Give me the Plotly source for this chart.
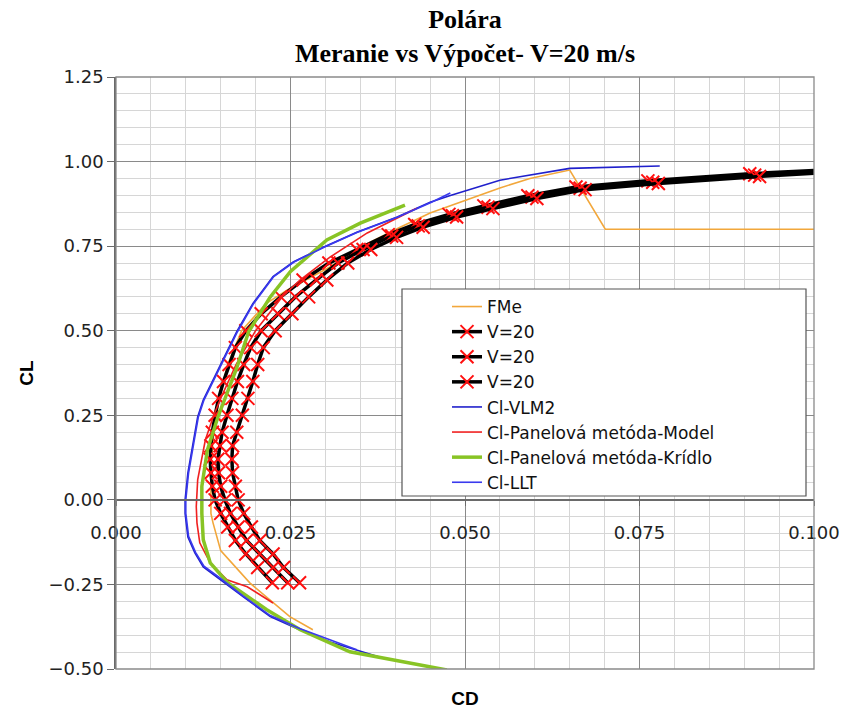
import plotly.graph_objects as go

# ---------------- data ----------------
FME_CD = [0.0282, 0.0249, 0.0192, 0.0150, 0.0139, 0.0136, 0.0136, 0.0136, 0.0140, 0.0148, 0.0160,
          0.0180, 0.0215, 0.0245, 0.0272, 0.0307, 0.0350, 0.0407, 0.0450, 0.0497, 0.0550, 0.0593,
          0.0650, 0.0701, 0.1000]
FME_CL = [-0.384, -0.345, -0.246, -0.150, -0.068, -0.040, 0.020, 0.100, 0.200, 0.300, 0.400,
          0.500, 0.580, 0.620, 0.650, 0.689, 0.747, 0.806, 0.848, 0.882, 0.922, 0.950,
          0.975, 0.800, 0.800]

V20_CL_BASE = [-0.245, -0.20, -0.16, -0.12, -0.08, -0.04, 0.00, 0.04, 0.08, 0.12, 0.16, 0.20, 0.25,
               0.30, 0.35, 0.40, 0.45, 0.50, 0.55, 0.60, 0.65, 0.70, 0.74]
V20A_CL = V20_CL_BASE + [0.784, 0.814, 0.844, 0.869, 0.899, 0.925, 0.943, 0.964, 0.979]
V20B_CL = V20_CL_BASE + [0.780, 0.810, 0.840, 0.865, 0.895, 0.921, 0.939, 0.960, 0.975]
V20C_CL = V20_CL_BASE + [0.776, 0.806, 0.836, 0.861, 0.891, 0.917, 0.935, 0.956, 0.971]
V20A_CD = [0.0224, 0.0203, 0.0186, 0.0171, 0.0160, 0.0150, 0.0142, 0.0138, 0.0136, 0.0135, 0.0136,
           0.0138, 0.0142, 0.0147, 0.0154, 0.0162, 0.0171, 0.0186, 0.0208, 0.0236, 0.0268, 0.0305,
           0.0345, 0.0390, 0.0428, 0.0477, 0.0527, 0.0590, 0.0659, 0.0762, 0.0908, 0.1050]
V20B_CD = [0.0246, 0.0225, 0.0206, 0.0187, 0.0175, 0.0164, 0.0156, 0.0150, 0.0147, 0.0146, 0.0149,
           0.0152, 0.0159, 0.0166, 0.0174, 0.0183, 0.0193, 0.0208, 0.0232, 0.0257, 0.0287, 0.0318,
           0.0354, 0.0395, 0.0433, 0.0482, 0.0533, 0.0596, 0.0665, 0.0769, 0.0915, 0.1050]
V20C_CD = [0.0263, 0.0240, 0.0225, 0.0206, 0.0194, 0.0183, 0.0175, 0.0171, 0.0167, 0.0166, 0.0167,
           0.0173, 0.0181, 0.0189, 0.0196, 0.0203, 0.0211, 0.0228, 0.0252, 0.0276, 0.0302, 0.0332,
           0.0365, 0.0402, 0.0440, 0.0488, 0.0540, 0.0603, 0.0672, 0.0777, 0.0922, 0.1050]

VLM2_CD = [0.0558, 0.0479, 0.0383, 0.0307, 0.0263, 0.0221, 0.0182, 0.0145, 0.0125, 0.0113, 0.0103,
           0.0099, 0.0099, 0.0103, 0.0110, 0.0117, 0.0125, 0.0139, 0.0145, 0.0173, 0.0196, 0.0225,
           0.0254, 0.0297, 0.0345, 0.0403, 0.0450, 0.0479, 0.0550, 0.0650, 0.0779]
VLM2_CL = [-0.522, -0.505, -0.468, -0.420, -0.384, -0.345, -0.286, -0.228, -0.198, -0.157, -0.110,
           -0.040, 0.000, 0.080, 0.157, 0.245, 0.295, 0.354, 0.384, 0.497, 0.580, 0.660,
           0.703, 0.747, 0.791, 0.836, 0.880, 0.900, 0.945, 0.980, 0.987]

MODEL_CD = [0.0225, 0.0188, 0.0159, 0.0135, 0.0120, 0.0116, 0.0115, 0.0117, 0.0128, 0.0140, 0.0150,
            0.0172, 0.0200, 0.0238, 0.0264, 0.0307, 0.0360, 0.0431]
MODEL_CL = [-0.305, -0.257, -0.236, -0.186, -0.127, -0.068, -0.020, 0.059, 0.177, 0.250, 0.300,
            0.400, 0.500, 0.600, 0.650, 0.718, 0.789, 0.862]

KRIDLO_CD = [0.0474, 0.0407, 0.0335, 0.0264, 0.0216, 0.0160, 0.0135, 0.0125, 0.0123, 0.0123, 0.0131,
             0.0146, 0.0173, 0.0190, 0.0206, 0.0221, 0.0250, 0.0302, 0.0350, 0.0414]
KRIDLO_CL = [-0.503, -0.478, -0.449, -0.384, -0.325, -0.245, -0.186, -0.118, -0.040, 0.040, 0.148,
             0.245, 0.390, 0.497, 0.552, 0.600, 0.675, 0.768, 0.818, 0.871]

LLT_CD = [0.0345, 0.0307, 0.0263, 0.0221, 0.0182, 0.0146, 0.0126, 0.0114, 0.0104, 0.0100, 0.0100,
          0.0104, 0.0111, 0.0118, 0.0126, 0.0140, 0.0146, 0.0174, 0.0197, 0.0226, 0.0255, 0.0298,
          0.0346, 0.0404, 0.0452, 0.0479]
LLT_CL = [-0.443, -0.414, -0.380, -0.342, -0.284, -0.226, -0.196, -0.155, -0.108, -0.040, 0.000,
          0.080, 0.157, 0.245, 0.295, 0.354, 0.384, 0.497, 0.580, 0.660, 0.703, 0.747,
          0.791, 0.836, 0.880, 0.907]

X_TICKS = [0.000, 0.025, 0.050, 0.075, 0.100]
Y_TICKS = [-0.50, -0.25, 0.00, 0.25, 0.50, 0.75, 1.00, 1.25]

# ---------------- figure ----------------
# page body has an 8px default margin; figure is sized/offset to compensate
FIG_W, FIG_H = 846, 701
M_L, M_R, M_T, M_B = 108, 40, 69, 40

fig = go.Figure()

fig.add_trace(go.Scatter(x=FME_CD, y=FME_CL, mode='lines', name='FMe',
                         line=dict(color='#F2A73B', width=1.6)))

for cd, cl in [(V20A_CD, V20A_CL), (V20B_CD, V20B_CL), (V20C_CD, V20C_CL)]:
    fig.add_trace(go.Scatter(x=cd, y=cl, mode='lines+markers', name='V=20',
                             line=dict(color='black', width=3.5),
                             marker=dict(symbol='x-thin', size=13,
                                         line=dict(color='#FF1010', width=2))))

fig.add_trace(go.Scatter(x=VLM2_CD, y=VLM2_CL, mode='lines', name='Cl-VLM2',
                         line=dict(color='#2020CC', width=1.6)))
fig.add_trace(go.Scatter(x=MODEL_CD, y=MODEL_CL, mode='lines', name='Cl-Panelová metóda-Model',
                         line=dict(color='#F02020', width=1.6)))
fig.add_trace(go.Scatter(x=KRIDLO_CD, y=KRIDLO_CL, mode='lines', name='Cl-Panelová metóda-Krídlo',
                         line=dict(color='#88C425', width=3.5)))
fig.add_trace(go.Scatter(x=LLT_CD, y=LLT_CL, mode='lines', name='Cl-LLT',
                         line=dict(color='#3A3AEE', width=1.6)))

# helper (draws nothing) so that the x-axis crossing at CL = 0 gets rendered
fig.add_trace(go.Scatter(x=X_TICKS, y=[0] * len(X_TICKS), xaxis='x2', yaxis='y', mode='none',
                         showlegend=False, hoverinfo='skip'))

major_grid = '#8a8a8a'
minor_grid = '#d6d6d6'
tick_font = dict(family='DejaVu Sans', size=18, color='#222222')

fig.update_layout(
    width=FIG_W, height=FIG_H, autosize=False,
    margin=dict(l=M_L, r=M_R, t=M_T, b=M_B, autoexpand=False),
    paper_bgcolor='white', plot_bgcolor='white',
    title=dict(text='<b>Polára<br>Meranie vs Výpočet- V=20 m/s</b>',
               x=0.5, xref='paper', xanchor='center',
               y=1 - 20 / FIG_H, yref='container', yanchor='top',
               font=dict(family='Liberation Serif', size=26, color='black')),
    xaxis=dict(range=[0, 0.1], tickvals=X_TICKS, showticklabels=False, ticks='',
               automargin=False,
               showgrid=True, gridcolor=major_grid, gridwidth=1.3,
               minor=dict(dtick=0.005, tick0=0, showgrid=True, gridcolor=minor_grid, gridwidth=1),
               zeroline=False, showline=False,
               title=dict(text='<b>CD</b>', standoff=32,
                          font=dict(family='Liberation Sans', size=19, color='black'))),
    xaxis2=dict(range=[0, 0.1], overlaying='x', anchor='free', position=0.5 / 1.75,
                automargin=False,
                tickvals=X_TICKS, tickformat='.3f', tickfont=tick_font,
                ticks='outside', ticklen=5, tickcolor='#6a6a6a',
                ticklabelstandoff=12,
                showgrid=False, zeroline=False,
                showline=True, linecolor='#6a6a6a', linewidth=1.5),
    yaxis=dict(range=[-0.5, 1.25], tickvals=Y_TICKS, tickformat='.2f', tickfont=tick_font,
               automargin=False,
               ticks='outside', ticklen=7, tickcolor='#6a6a6a',
               showgrid=True, gridcolor=major_grid, gridwidth=1.3,
               minor=dict(dtick=0.05, tick0=0, showgrid=True, gridcolor=minor_grid, gridwidth=1),
               zeroline=False, showline=True, linecolor='#6a6a6a', linewidth=1.5,
               title=dict(text='<b>CL</b>', standoff=10,
                          font=dict(family='Liberation Sans', size=19, color='black'))),
    legend=dict(x=(447 - 116) / 698, xanchor='left', y=(669 - 289) / 592, yanchor='top',
                bgcolor='rgba(0,0,0,0)', borderwidth=0,
                font=dict(family='DejaVu Sans', size=17, color='#111111'),
                itemwidth=30, tracegroupgap=0),
    shapes=[
        dict(type='rect', xref='paper', yref='paper', x0=0, x1=1, y0=0, y1=1,
             line=dict(color=major_grid, width=1.3), layer='above'),
        dict(type='rect', xref='paper', yref='paper',
             x0=(402 - 116) / 698, x1=(806 - 116) / 698,
             y0=(669 - 496) / 592, y1=(669 - 289) / 592,
             line=dict(color='#555555', width=1.2), fillcolor='white', layer='above'),
    ],
)

fig.write_html('out.html')
